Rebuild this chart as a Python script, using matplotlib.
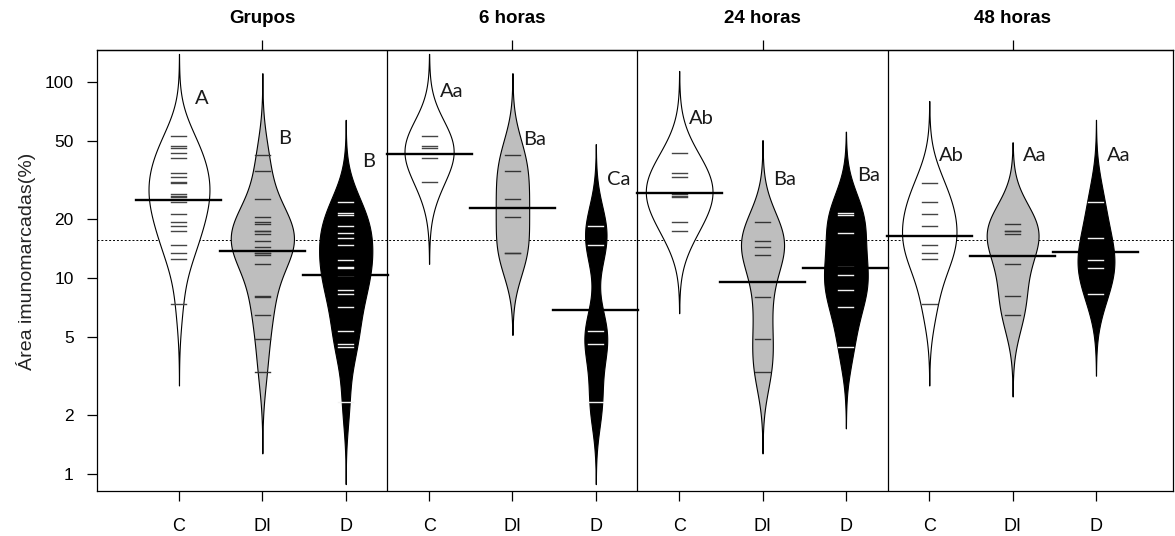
import numpy as np
import matplotlib.pyplot as plt

plt.rcParams["font.family"] = ["Liberation Sans", "DejaVu Sans"]

c_6h = [53.4, 47.3, 46.1, 41.0, 30.9]
c_24h = [43.7, 34.3, 33.0, 26.9, 26.3, 25.8, 19.4, 17.3]
c_48h = [30.7, 24.6, 21.2, 18.5, 14.8, 13.4, 12.5, 7.4]
di_6h = [42.6, 35.4, 25.3, 20.6, 13.4, 13.4]
di_24h = [19.4, 15.4, 14.4, 13.1, 8.05, 4.88, 3.33]
di_48h = [18.9, 17.5, 17.4, 16.8, 11.8, 8.1, 6.5]
d_6h = [18.5, 14.8, 5.39, 4.61, 2.32]
d_24h = [21.4, 20.9, 16.9, 11.4, 10.4, 8.7, 7.16, 4.47]
d_48h = [24.6, 16.0, 12.4, 11.2, 8.3]

panels = ["Grupos", "6 horas", "24 horas", "48 horas"]
groups = ["C", "DI", "D"]
letters = ["A", "B", "B", "Aa", "Ba", "Ca", "Ab", "Ba", "Ba", "Ab", "Aa", "Aa"]
letter_y = [83, 51.4, 39.4, 89.8, 51.2, 31.8, 64.9, 31.8, 33.3, 42.1, 42.1, 42.1]

# "Grupos" pools the three time points
beans = [
    c_6h + c_24h + c_48h, di_6h + di_24h + di_48h, d_6h + d_24h + d_48h,
    c_6h, di_6h, d_6h,
    c_24h, di_24h, d_24h,
    c_48h, di_48h, d_48h,
]

fills = ["white", "#bebebe", "black"]
line_cols = ["#454545", "#353535", "#f2f2f2"]
bw = 0.139  # common bandwidth, log10 units
grownage = 10  # beans with fewer points are drawn narrower (beanplot default)


def density(vals):
    lv = np.log10(vals)
    grid = np.linspace(lv.min() - 3 * bw, lv.max() + 3 * bw, 400)
    z = (grid[:, None] - lv[None, :]) / bw
    dens = np.exp(-0.5 * z ** 2).sum(axis=1) / (len(lv) * bw * np.sqrt(2 * np.pi))
    return grid, dens * min(1.0, len(lv) / grownage)


shapes = [density(b) for b in beans]
scale = 0.4 / max(d.max() for _, d in shapes)

fig = plt.figure(figsize=(11.75, 5.36), dpi=100)
ax = fig.add_axes([0.0823, 0.0845, 0.916, 0.8222])
ax.set_yscale("log")

overall = 10 ** np.mean(np.log10(np.concatenate([np.array(b) for b in beans[:3]])))
ax.axhline(overall, color="black", linestyle=(0, (2, 2)), linewidth=0.7, zorder=1)
for xd in [3.5, 6.5, 9.5]:
    ax.axvline(xd, color="black", linewidth=0.9, zorder=1)

for i, (vals, (grid, dens)) in enumerate(zip(beans, shapes)):
    pos = i + 1
    k = i % 3
    half = dens * scale
    ax.fill_betweenx(10 ** grid, pos - half, pos + half, facecolor=fills[k],
                     edgecolor="black", linewidth=0.8, zorder=2)
    for v in vals:
        ax.plot([pos - 0.09, pos + 0.09], [v, v], color=line_cols[k], linewidth=1.0, zorder=3)
    gm = 10 ** np.mean(np.log10(vals))
    ax.plot([pos - 0.51, pos + 0.51], [gm, gm], color="black", linewidth=1.7, zorder=4)
    ax.text(pos + 0.27, letter_y[i], letters[i], ha="center", va="center",
            fontsize=14.5, family="Lato", color="#1a1a1a", zorder=5)

ax.set_xlim(0.013, 12.924)
ax.set_ylim(0.822, 146)

yt = [1, 2, 5, 10, 20, 50, 100]
ax.set_yticks(yt)
ax.set_yticklabels([str(v) for v in yt])
ax.minorticks_off()
ax.set_xticks(range(1, 13))
ax.set_xticklabels(groups * 4)

for sp in ax.spines.values():
    sp.set_linewidth(0.9)

ax.tick_params(axis="y", direction="out", length=7.5, width=0.9, pad=9, labelsize=12.5)
ax.tick_params(axis="x", direction="out", length=7.5, width=0.9, pad=12, labelsize=13)

top = ax.secondary_xaxis("top")
top.set_xticks([2, 5, 8, 11])
top.set_xticklabels(panels, fontweight="bold", fontsize=13.5)
top.tick_params(direction="out", length=7.5, width=0.9, pad=9)
top.spines["top"].set_linewidth(0.9)

fig.text(0.0225, 0.512, "Área imunomarcadas(%)", rotation=90, ha="center", va="center",
         fontsize=14, color="#222222")

fig.savefig("out.png", dpi=100)
